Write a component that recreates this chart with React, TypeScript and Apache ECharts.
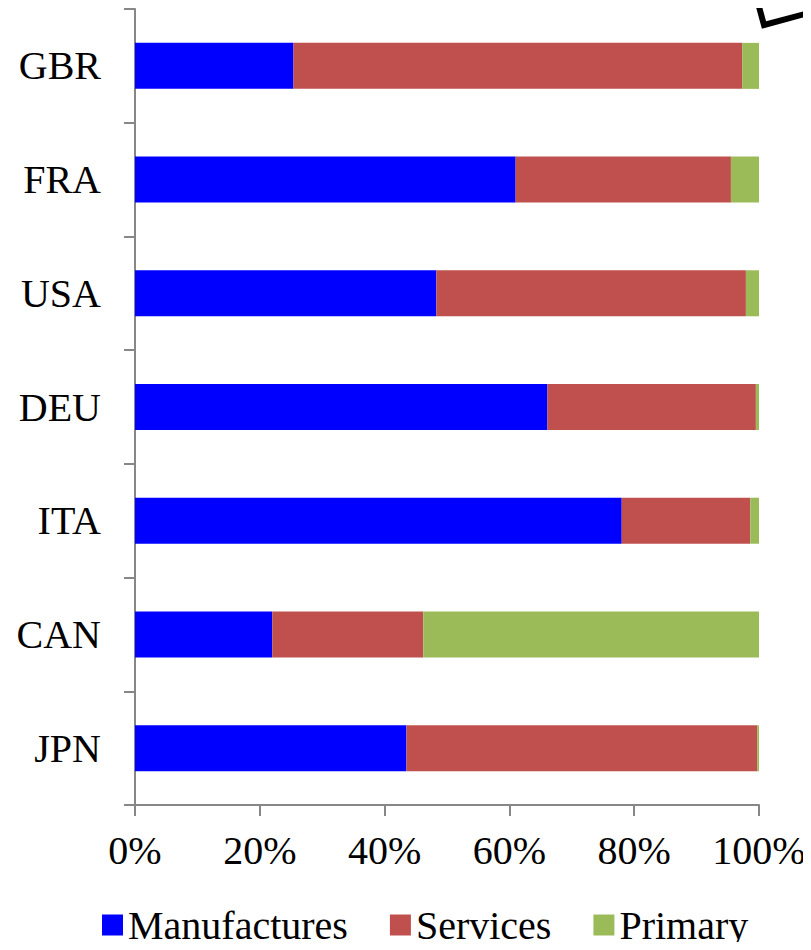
import React, { useEffect, useRef } from "react";
import * as echarts from "echarts";

// Countries, listed from the bottom bar to the top bar
const countries = ["JPN", "CAN", "ITA", "DEU", "USA", "FRA", "GBR"];

// Share of each sector, in percent
const manufactures = [43.5, 22.0, 78.0, 66.1, 48.3, 61.0, 25.4];
const services = [56.2, 24.2, 20.6, 33.4, 49.6, 34.5, 71.9];
const primary = [0.3, 53.8, 1.4, 0.5, 2.1, 4.5, 2.7];

const xTicks = [0, 20, 40, 60, 80, 100];

const FONT = "'Liberation Serif', 'Times New Roman', serif";
const AXIS_GREY = "#878787";

export default function App() {
  const ref = useRef<HTMLDivElement>(null);

  useEffect(() => {
    if (!ref.current) return;
    const chart = echarts.init(ref.current, null, { renderer: "svg" });

    const bar = (name: string, data: number[], color: string) => ({
      name,
      type: "bar" as const,
      stack: "total",
      data,
      barWidth: 46,
      itemStyle: { color },
      emphasis: { disabled: true },
    });

    chart.setOption({
      animation: false,
      backgroundColor: "#ffffff",
      textStyle: { fontFamily: FONT },
      grid: { left: 135, right: 52, top: 9, bottom: 145, containLabel: false },
      xAxis: {
        type: "value",
        min: xTicks[0],
        max: xTicks[xTicks.length - 1],
        interval: 20,
        splitLine: { show: false },
        axisLine: { show: true, lineStyle: { color: AXIS_GREY, width: 2 } },
        axisTick: { show: true, length: 11, lineStyle: { color: AXIS_GREY, width: 2 } },
        axisLabel: {
          formatter: "{value}%",
          color: "#000",
          fontSize: 40,
          fontFamily: FONT,
          margin: 25,
        },
      },
      yAxis: {
        type: "category",
        data: countries,
        axisLine: { show: true, lineStyle: { color: AXIS_GREY, width: 2 } },
        axisTick: { show: true, length: 11, lineStyle: { color: AXIS_GREY, width: 2 } },
        axisLabel: {
          color: "#000",
          fontSize: 40,
          fontFamily: FONT,
          margin: 34,
        },
      },
      legend: {
        bottom: 0,
        left: 97,
        itemWidth: 21,
        itemHeight: 21,
        itemGap: 42,
        icon: "rect",
        textStyle: { fontSize: 40, fontFamily: FONT, color: "#000" },
        data: ["Manufactures", "Services", "Primary"],
      },
      series: [
        bar("Manufactures", manufactures, "#0000ff"),
        bar("Services", services, "#c0504d"),
        bar("Primary", primary, "#9bbb59"),
      ],
      graphic: [
        {
          type: "polyline",
          shape: { points: [[755, -8], [764, 25], [816, 11]] },
          style: { stroke: "#000", lineWidth: 6, fill: "none", lineJoin: "miter" },
        },
      ],
    });

    return () => chart.dispose();
  }, []);

  return <div ref={ref} style={{ width: 811, height: 950, margin: -8 }} />;
}
